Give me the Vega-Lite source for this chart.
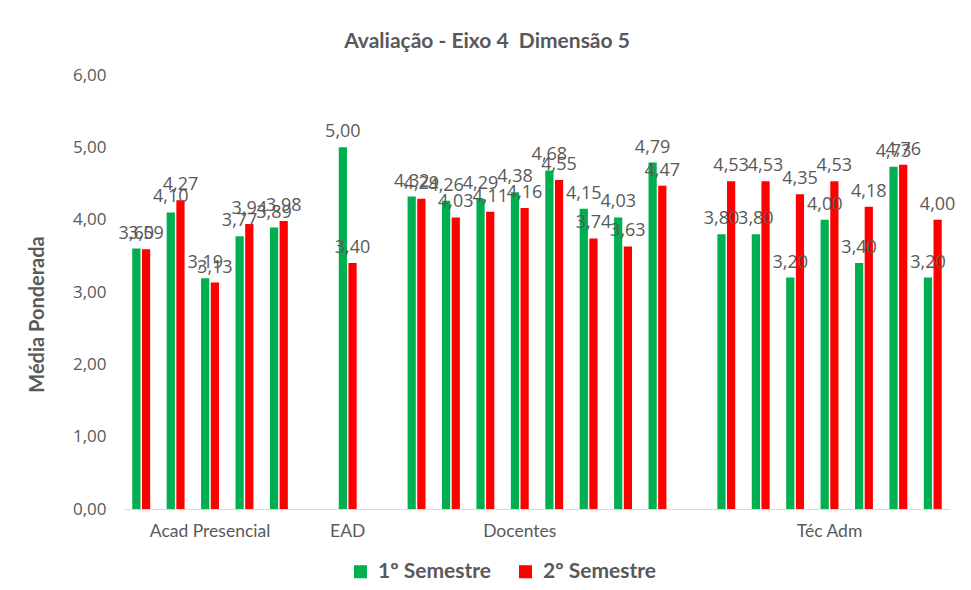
{
  "$schema": "https://vega.github.io/schema/vega-lite/v6.json",
  "autosize": {"type": "none"},
  "padding": {"left": 124, "top": 75, "right": 21, "bottom": 81},
  "width": 826,
  "height": 434,
  "background": "white",
  "title": {
    "text": "Avaliação - Eixo 4\u00a0 Dimensão 5",
    "font": "Lato",
    "fontSize": 21,
    "fontWeight": "bold",
    "color": "#595959",
    "anchor": "middle",
    "frame": "group",
    "dx": -50,
    "offset": 14
  },
  "config": {
    "locale": {"number": {"decimal": ",", "thousands": ".", "grouping": [3], "currency": ["R$", ""]}},
    "view": {"stroke": null}
  },
  "data": {
    "values": [
      {"grupo": "Acad Presencial", "slot": "A1", "semestre": "1º Semestre", "media": 3.60},
      {"grupo": "Acad Presencial", "slot": "A1", "semestre": "2º Semestre", "media": 3.59},
      {"grupo": "Acad Presencial", "slot": "A2", "semestre": "1º Semestre", "media": 4.10},
      {"grupo": "Acad Presencial", "slot": "A2", "semestre": "2º Semestre", "media": 4.27},
      {"grupo": "Acad Presencial", "slot": "A3", "semestre": "1º Semestre", "media": 3.19},
      {"grupo": "Acad Presencial", "slot": "A3", "semestre": "2º Semestre", "media": 3.13},
      {"grupo": "Acad Presencial", "slot": "A4", "semestre": "1º Semestre", "media": 3.77},
      {"grupo": "Acad Presencial", "slot": "A4", "semestre": "2º Semestre", "media": 3.94},
      {"grupo": "Acad Presencial", "slot": "A5", "semestre": "1º Semestre", "media": 3.89},
      {"grupo": "Acad Presencial", "slot": "A5", "semestre": "2º Semestre", "media": 3.98},
      {"grupo": "EAD", "slot": "E1", "semestre": "1º Semestre", "media": 5.00},
      {"grupo": "EAD", "slot": "E1", "semestre": "2º Semestre", "media": 3.40},
      {"grupo": "Docentes", "slot": "D1", "semestre": "1º Semestre", "media": 4.32},
      {"grupo": "Docentes", "slot": "D1", "semestre": "2º Semestre", "media": 4.29},
      {"grupo": "Docentes", "slot": "D2", "semestre": "1º Semestre", "media": 4.26},
      {"grupo": "Docentes", "slot": "D2", "semestre": "2º Semestre", "media": 4.03},
      {"grupo": "Docentes", "slot": "D3", "semestre": "1º Semestre", "media": 4.29},
      {"grupo": "Docentes", "slot": "D3", "semestre": "2º Semestre", "media": 4.11},
      {"grupo": "Docentes", "slot": "D4", "semestre": "1º Semestre", "media": 4.38},
      {"grupo": "Docentes", "slot": "D4", "semestre": "2º Semestre", "media": 4.16},
      {"grupo": "Docentes", "slot": "D5", "semestre": "1º Semestre", "media": 4.68},
      {"grupo": "Docentes", "slot": "D5", "semestre": "2º Semestre", "media": 4.55},
      {"grupo": "Docentes", "slot": "D6", "semestre": "1º Semestre", "media": 4.15},
      {"grupo": "Docentes", "slot": "D6", "semestre": "2º Semestre", "media": 3.74},
      {"grupo": "Docentes", "slot": "D7", "semestre": "1º Semestre", "media": 4.03},
      {"grupo": "Docentes", "slot": "D7", "semestre": "2º Semestre", "media": 3.63},
      {"grupo": "Docentes", "slot": "D8", "semestre": "1º Semestre", "media": 4.79},
      {"grupo": "Docentes", "slot": "D8", "semestre": "2º Semestre", "media": 4.47},
      {"grupo": "Téc Adm", "slot": "T1", "semestre": "1º Semestre", "media": 3.80},
      {"grupo": "Téc Adm", "slot": "T1", "semestre": "2º Semestre", "media": 4.53},
      {"grupo": "Téc Adm", "slot": "T2", "semestre": "1º Semestre", "media": 3.80},
      {"grupo": "Téc Adm", "slot": "T2", "semestre": "2º Semestre", "media": 4.53},
      {"grupo": "Téc Adm", "slot": "T3", "semestre": "1º Semestre", "media": 3.20},
      {"grupo": "Téc Adm", "slot": "T3", "semestre": "2º Semestre", "media": 4.35},
      {"grupo": "Téc Adm", "slot": "T4", "semestre": "1º Semestre", "media": 4.00},
      {"grupo": "Téc Adm", "slot": "T4", "semestre": "2º Semestre", "media": 4.53},
      {"grupo": "Téc Adm", "slot": "T5", "semestre": "1º Semestre", "media": 3.40},
      {"grupo": "Téc Adm", "slot": "T5", "semestre": "2º Semestre", "media": 4.18},
      {"grupo": "Téc Adm", "slot": "T6", "semestre": "1º Semestre", "media": 4.73},
      {"grupo": "Téc Adm", "slot": "T6", "semestre": "2º Semestre", "media": 4.76},
      {"grupo": "Téc Adm", "slot": "T7", "semestre": "1º Semestre", "media": 3.20},
      {"grupo": "Téc Adm", "slot": "T7", "semestre": "2º Semestre", "media": 4.00}
    ]
  },
  "encoding": {
    "x": {
      "field": "slot",
      "type": "nominal",
      "sort": null,
      "scale": {
        "domain": ["A1","A2","A3","A4","A5","G1","E1","G2","D1","D2","D3","D4","D5","D6","D7","D8","G3","T1","T2","T3","T4","T5","T6","T7"],
        "paddingInner": 0.48,
        "paddingOuter": 0.24
      },
      "axis": {
        "title": null,
        "labelAngle": 0,
        "labelOverlap": false,
        "labelBound": false,
        "labelExpr": "datum.value == 'A3' ? 'Acad Presencial' : datum.value == 'E1' ? 'EAD' : datum.value == 'D4' ? 'Docentes' : datum.value == 'T4' ? 'Téc Adm' : ''",
        "labelFont": "Lato",
        "labelFontSize": 17.5,
        "labelColor": "#595959",
        "labelPadding": 13,
        "ticks": false,
        "domainColor": "#D9D9D9",
        "domainWidth": 1,
        "grid": false
      }
    },
    "xOffset": {
      "field": "semestre",
      "type": "nominal",
      "scale": {"paddingInner": 0.15}
    },
    "y": {
      "field": "media",
      "type": "quantitative",
      "scale": {"domain": [0, 6]},
      "axis": {
        "title": "Média Ponderada",
        "titleFont": "Lato",
        "titleFontSize": 20,
        "titleFontWeight": "bold",
        "titleColor": "#595959",
        "titleX": -87,
        "titleY": 239,
        "titleAlign": "center",
        "titleBaseline": "middle",
        "values": [0, 1, 2, 3, 4, 5, 6],
        "format": ".2f",
        "labelFont": "Open Sans",
        "labelFontSize": 17,
        "labelColor": "#595959",
        "labelPadding": 18,
        "domain": false,
        "ticks": false,
        "grid": false
      }
    }
  },
  "layer": [
    {
      "mark": {"type": "bar"},
      "encoding": {
        "color": {
          "field": "semestre",
          "type": "nominal",
          "scale": {"domain": ["1º Semestre", "2º Semestre"], "range": ["#00B050", "#FF0000"]},
          "legend": {
            "title": null,
            "orient": "none",
            "direction": "horizontal",
            "legendX": 226,
            "legendY": 486,
            "symbolType": "square",
            "symbolSize": 170,
            "symbolStrokeWidth": 0,
            "labelFont": "Lato",
            "labelFontSize": 21,
            "labelFontWeight": "bold",
            "labelColor": "#595959",
            "labelOffset": 7,
            "columnPadding": 24
          }
        }
      }
    },
    {
      "mark": {"type": "text", "baseline": "bottom", "dy": -6, "font": "Open Sans", "fontSize": 18, "color": "#595959"},
      "encoding": {
        "text": {"field": "media", "type": "quantitative", "format": ".2f"}
      }
    }
  ]
}
